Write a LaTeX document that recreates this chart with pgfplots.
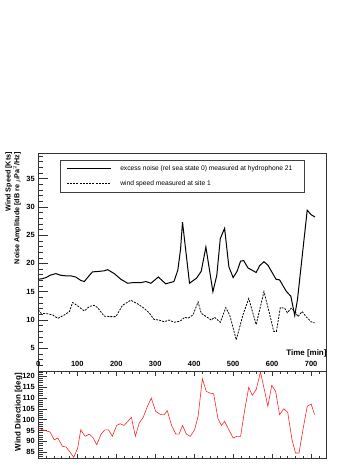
\documentclass[border=0pt]{standalone}
\usepackage{pgfplots}
\pgfplotsset{compat=1.18}
\usepackage{fontspec}
\setmainfont{Liberation Sans}
\begin{document}
\begin{tikzpicture}
\path[use as bounding box] (0bp,0bp) rectangle (361bp,-468bp);
\pgfplotsset{
  panel/.style={
    scale only axis, width=288.4bp, xmin=0, xmax=740,
    axis line style={black!80, line width=0.6bp},
    every tick/.style={black!80, line width=0.5bp},
    tick align=inside,
    /pgf/number format/assume math mode=true,
    ticklabel style={font=\fontsize{7.5}{8}\selectfont\bfseries},
  },
}
% upper panel: noise and wind speed
\begin{axis}[panel, at={(38.3bp,-371bp)}, anchor=south west, height=218bp,
  ymin=1, ymax=39.5, xtick=\empty,
  ytick={5,10,...,35}, minor ytick={1,...,39}, ytick pos=left,
  major tick length=10bp, minor tick length=5bp,
  legend style={at={(0.0752,0.968)}, anchor=north west, draw=black!75, line width=0.6bp,
    font=\fontsize{6.7}{7.7}\selectfont, inner xsep=6bp, inner ysep=3bp, row sep=5bp,
    column sep=7bp, cells={anchor=west}},
  legend image code/.code={\draw[#1] (0bp,0bp) -- (44bp,0bp);},
]
\addplot[black, line width=1bp] coordinates {
 (0,17.2) (10,17.3) (20,17.5) (30,17.9) (45,18.2) (58,17.9) (72,17.8) (84,17.8)
 (96,17.6) (109,17.0) (118,16.8) (130,17.8) (139,18.5) (156,18.6) (170,18.7) (178,18.9)
 (195,18.2) (212,17.2) (229,16.5) (242,16.6) (263,16.6) (276,16.8) (289,16.5) (308,17.6)
 (327,16.4) (348,16.8) (358,18.8) (365,22.5) (370,27.3) (388,16.5) (406,17.4) (418,18.6)
 (430,22.9) (448,15.0) (458,17.9) (467,24.4) (478,26.2) (489,19.4) (500,17.5) (510,18.6)
 (519,20.4) (527,20.5) (538,19.2) (559,18.4) (568,19.6) (579,20.3) (589,19.7) (610,17.2)
 (619,17.1) (636,15.1) (648,14.2) (658,10.8) (665,13.6) (690,29.4) (700,28.6) (710,28.2)
};
\addlegendentry{\makebox[176bp][l]{excess noise (rel sea state 0) measured at hydrophone 21}}
\addplot[black, line width=0.8bp, dash pattern=on 2bp off 1.2bp] coordinates {
 (0,11.8) (7,11.2) (24,11.1) (37,10.9) (50,10.3) (67,10.9) (80,11.5) (88,13.1)
 (101,12.5) (118,11.6) (131,12.4) (143,12.6) (152,12.2) (169,10.7) (182,10.6) (199,10.6)
 (216,12.6) (237,13.5) (254,12.9) (271,12.1) (284,11.3) (297,10.1) (310,10.0) (323,9.7)
 (336,10.0) (348,9.6) (364,9.8) (376,10.5) (384,10.3) (397,10.9) (410,13.2) (418,11.2)
 (431,10.6) (444,10.0) (452,10.5) (467,9.6) (481,12.2) (491,10.9) (508,6.5) (525,10.9)
 (540,13.8) (559,9.2) (579,15.0) (592,11.5) (604,8.0) (611,8.0) (621,12.2) (632,12.1)
 (639,11.3) (649,12.1) (660,11.4) (666,10.6) (677,11.5) (687,10.6) (700,9.7) (709,9.5)
};
\addlegendentry{wind speed measured at site 1}
\end{axis}
% lower panel: wind direction
\begin{axis}[panel, at={(38.3bp,-458bp)}, anchor=south west, height=87bp,
  ymin=82.3, ymax=122.4, xtick=\empty,
  ytick={85,90,...,120}, minor ytick={83,...,122}, ytick pos=left,
  major tick length=9bp, minor tick length=5bp,
]
\addplot[red!85!white, line width=0.6bp] coordinates {
 (1,96.1) (11,95.3) (24,94.6) (30,94.3) (41,90.7) (50,91.5) (62,87.7) (71,87.4)
 (80,85.4) (91,82.6) (101,86.9) (109,95.3) (120,92.3) (131,93.3) (141,91.5) (150,88.4)
 (161,93.3) (171,95.3) (180,95.3) (190,92.3) (201,97.3) (210,98.1) (220,97.3) (239,101.0)
 (249,92.3) (259,98.4) (269,101.0) (280,106.1) (290,109.9) (301,103.8) (314,102.3) (323,102.3)
 (331,104.1) (342,97.3) (353,93.3) (361,93.3) (370,97.3) (380,93.3) (390,92.3) (401,95.3)
 (410,101.5) (421,118.8) (431,113.0) (441,112.2) (450,111.9) (461,100.4) (470,97.3) (478,99.2)
 (489,95.3) (500,91.5) (510,92.3) (519,92.3) (529,103.8) (540,114.9) (549,111.2) (559,113.8)
 (570,121.9) (581,113.0) (589,106.1) (599,115.8) (609,113.0) (619,102.3) (630,105.0) (640,103.3)
 (651,90.7) (660,84.6) (669,84.6) (679,95.3) (690,106.1) (700,107.2) (709,102.3)
};
\end{axis}
% time ticks shared by both panels
\begin{axis}[panel, at={(38.3bp,-458bp)}, anchor=south west, height=87bp,
  ymin=0, ymax=1, ytick=\empty, axis line style={draw=none},
  xtick={0,100,...,700}, minor xtick={0,20,...,740},
  xticklabel pos=upper, xtick pos=both,
  major tick length=4.5bp, minor tick length=2.5bp,
  xticklabel style={yshift=1bp},
]
\end{axis}
\node[anchor=south east, inner sep=0pt, font=\fontsize{8}{9}\selectfont\bfseries]
  at (326.7bp,-357.5bp) {Time [min]};
\node[rotate=90, anchor=south east, align=right, inner sep=0pt,
  font=\fontsize{7.2}{7.6}\selectfont\bfseries]
  at (21bp,-152bp) {Wind Speed [Kts]\\Noise Amplitude [dB re $\mu$Pa$^2$/Hz]};
\node[rotate=90, anchor=east, inner sep=0pt, font=\fontsize{8}{9}\selectfont\bfseries]
  at (18.5bp,-373bp) {Wind Direction [deg]};
\end{tikzpicture}
\end{document}
